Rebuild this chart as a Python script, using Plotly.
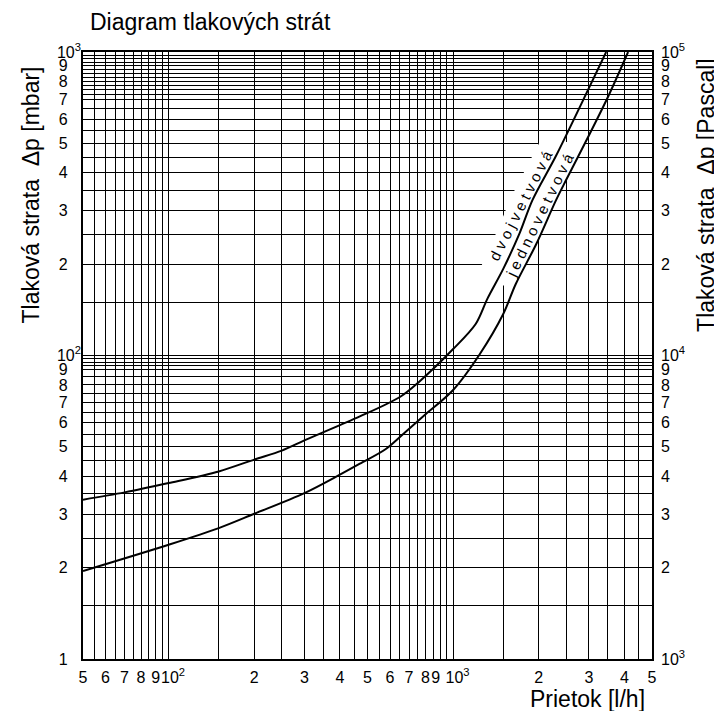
import numpy as np
import plotly.graph_objects as go

# ---- data ----
flow_dvoj = [50, 70, 100, 150, 200, 250, 300, 400, 470, 650, 760, 1000, 1200, 1320,
             1500, 1710, 1900, 2300, 3000, 3450]
dp_dvoj = [33.5, 35.4, 38.0, 41.5, 45.4, 48.6, 52.5, 59, 63, 73, 82, 105, 127, 154,
           193, 252, 325, 455, 760, 1000]

flow_jedno = [50, 100, 150, 200, 300, 400, 470, 580, 680, 800, 1000, 1240, 1500, 1660,
              1960, 2300, 2500, 3000, 3500, 4120]
dp_jedno = [19.5, 23.8, 27, 30.1, 35.2, 40.5, 44, 49.2, 56, 64, 77, 101, 137, 172,
            233, 325, 380, 531, 711, 1000]

# grid values
x_grid = list(range(50, 100, 5)) + list(range(100, 1000, 50)) + list(range(1000, 5001, 500))
y_grid = list(range(10, 95, 5)) + [92.5, 95, 97.5] + list(range(100, 700, 50)) + list(range(700, 1001, 25))
y_grid = sorted(set(y_grid))

NB = "\u00a0"
x_labels = {50: "5", 60: "6", 70: "7", 80: "8", 90: "9", 100: NB + NB + "10<sup>2</sup>",
            200: "2", 300: "3", 400: "4", 500: "5", 600: "6", 700: "7", 800: "8", 900: "9" + NB + NB,
            1000: NB + NB + "10<sup>3</sup>", 2000: "2", 3000: "3", 4000: "4", 5000: "5"}
pad = NB * 3
y_labels = {10: "1" + pad, 20: "2" + pad, 30: "3" + pad, 40: "4" + pad, 50: "5" + pad,
            60: "6" + pad, 70: "7" + pad, 80: "8" + pad, 90: "9" + pad, 100: "10<sup>2</sup>",
            200: "2" + pad, 300: "3" + pad, 400: "4" + pad, 500: "5" + pad, 600: "6" + pad,
            700: "7" + pad, 800: "8" + pad, 900: "9" + pad, 1000: "10<sup>3</sup>"}
y2_vals = [1000, 2000, 3000, 4000, 5000, 6000, 7000, 8000, 9000,
           10000, 20000, 30000, 40000, 50000, 60000, 70000, 80000, 90000, 100000]
y2_text = ["10<sup>3</sup>", "2", "3", "4", "5", "6", "7", "8", "9",
           "10<sup>4</sup>", "2", "3", "4", "5", "6", "7", "8", "9", "10<sup>5</sup>"]

FONT = "Liberation Sans, Arial, sans-serif"

fig = go.Figure()

# white band under the curve labels (masks the grid), derived from the curves
ys = np.geomspace(170, 505, 40)
ly = np.log10(ys)
ux = 10 ** np.interp(ly, np.log10(dp_dvoj), np.log10(flow_dvoj))
lx = 10 ** np.interp(ly, np.log10(dp_jedno), np.log10(flow_jedno))
fig.add_trace(go.Scatter(x=np.concatenate([ux * 0.83, lx[::-1]]),
                         y=np.concatenate([ys, ys[::-1]]),
                         fill="toself", fillcolor="white", mode="lines",
                         line=dict(width=0, color="white"),
                         hoverinfo="skip", showlegend=False))

fig.add_trace(go.Scatter(x=flow_dvoj, y=dp_dvoj, mode="lines", name="dvojvetvová",
                         line=dict(color="black", width=2, shape="spline", smoothing=0.9),
                         showlegend=False))
fig.add_trace(go.Scatter(x=flow_jedno, y=dp_jedno, mode="lines", name="jednovetvová",
                         line=dict(color="black", width=2, shape="spline", smoothing=0.9),
                         showlegend=False))
# Pascal axis companion (invisible)
fig.add_trace(go.Scatter(x=flow_jedno, y=[v * 100 for v in dp_jedno], yaxis="y2",
                         mode="lines", line=dict(width=0, color="rgba(0,0,0,0)"),
                         hoverinfo="skip", showlegend=False))

axis_common = dict(type="log", showgrid=True, gridcolor="black", gridwidth=1.4,
                   showline=True, linecolor="black", linewidth=1.6, mirror=True,
                   ticks="", zeroline=False, tickangle=0,
                   tickfont=dict(family=FONT, size=16, color="black"))

# the page body has an 8px margin: figure is 714x703 so that the plot area
# sits at the reference's pixel position inside the 722x711 window
fig.update_layout(
    width=714, height=703, autosize=False,
    margin=dict(l=75, r=70, t=44, b=52),
    paper_bgcolor="white", plot_bgcolor="white",
    font=dict(family=FONT, color="black"),
    xaxis=dict(range=[np.log10(50), np.log10(5000)], tickmode="array",
               tickvals=x_grid, ticktext=[x_labels.get(v, "") for v in x_grid],
               ticklabelstandoff=3, **axis_common),
    yaxis=dict(range=[1, 3], tickmode="array",
               tickvals=y_grid, ticktext=[y_labels.get(v, "") for v in y_grid],
               ticklabelstandoff=-3, **axis_common),
    yaxis2=dict(type="log", range=[3, 5], overlaying="y", side="right",
                showgrid=False, showline=False, zeroline=False, ticks="",
                tickmode="array", tickvals=y2_vals, ticktext=y2_text,
                ticklabelstandoff=8,
                tickfont=dict(family=FONT, size=16, color="black")),
)

ann = [
    dict(text="Diagram tlakových strát", x=0.008, y=1.049, xanchor="left", yanchor="middle",
         font=dict(size=23)),
    dict(text="Tlaková strata  Δp [mbar]", x=-0.0917, y=0.765, textangle=-90,
         xanchor="center", yanchor="middle", font=dict(size=23)),
    dict(text="Tlaková strata  Δp [Pascal]", x=1.0936, y=0.765, textangle=-90,
         xanchor="center", yanchor="middle", font=dict(size=23)),
    dict(text="Prietok [l/h]", x=0.9917, y=-0.066, xanchor="right", yanchor="middle",
         font=dict(size=23)),
]
for a in ann:
    a.update(xref="paper", yref="paper", showarrow=False)
    a["font"].update(family=FONT, color="black")

fig.add_annotation(text="d v o j v e t v o v á", x=np.log10(1725), y=np.log10(312),
                   xref="x", yref="y", showarrow=False, textangle=-63,
                   font=dict(family=FONT, size=15, color="black"))
fig.add_annotation(text="j e d n o v e t v o v á", x=np.log10(2012), y=np.log10(289),
                   xref="x", yref="y", showarrow=False, textangle=-64,
                   font=dict(family=FONT, size=15, color="black"))
for a in ann:
    fig.add_annotation(**a)

fig.write_html("out.html")
